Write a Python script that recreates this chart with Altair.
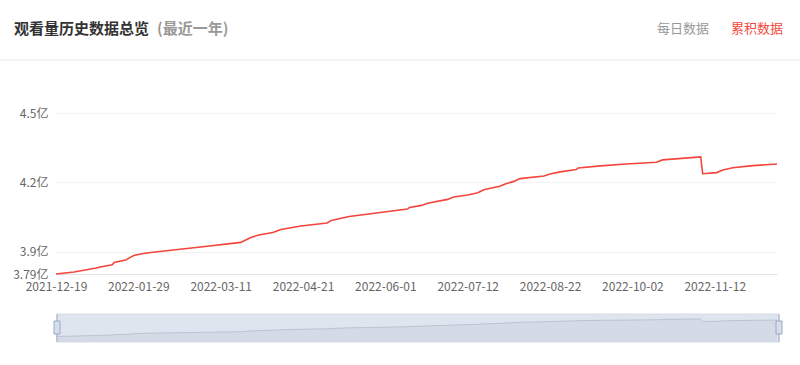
import altair as alt
import pandas as pd

# ---- data (cumulative views, unit: 亿) ----
dates = [
    "2021-12-19", "2021-12-28", "2022-01-08", "2022-01-10", "2022-01-16", "2022-01-17",
    "2022-01-23", "2022-01-25", "2022-01-27", "2022-02-02", "2022-02-12", "2022-03-01",
    "2022-03-21", "2022-03-26", "2022-03-30", "2022-04-06", "2022-04-10", "2022-04-20",
    "2022-05-03", "2022-05-05", "2022-05-14", "2022-06-12", "2022-06-13", "2022-06-19",
    "2022-06-22", "2022-07-02", "2022-07-05", "2022-07-12", "2022-07-17", "2022-07-20",
    "2022-07-28", "2022-07-31", "2022-08-04", "2022-08-07", "2022-08-19", "2022-08-22",
    "2022-08-27", "2022-09-04", "2022-09-05", "2022-09-16", "2022-09-29", "2022-10-14",
    "2022-10-17", "2022-11-05", "2022-11-06", "2022-11-13", "2022-11-16", "2022-11-21",
    "2022-12-01", "2022-12-13",
]
views_yi = [
    3.803, 3.812, 3.829, 3.833, 3.843, 3.853,
    3.865, 3.875, 3.884, 3.894, 3.904, 3.920,
    3.940, 3.961, 3.972, 3.983, 3.996, 4.011,
    4.024, 4.035, 4.052, 4.084, 4.091, 4.100,
    4.109, 4.126, 4.136, 4.145, 4.155, 4.168,
    4.183, 4.194, 4.204, 4.216, 4.227, 4.236,
    4.245, 4.255, 4.262, 4.271, 4.279, 4.287,
    4.297, 4.310, 4.237, 4.242, 4.253, 4.263,
    4.272, 4.279,
]
x_tick_labels = ["2021-12-19", "2022-01-29", "2022-03-11", "2022-04-21", "2022-06-01",
                 "2022-07-12", "2022-08-22", "2022-10-02", "2022-11-12"]
y_tick_values = [3.803, 3.9, 4.2, 4.5]
y_tick_labels = ["3.79亿", "3.9亿", "4.2亿", "4.5亿"]
slider_domain = [3.64, 4.456]

title_main = "观看量历史数据总览"
title_sub = "(最近一年)"
tab_daily = "每日数据"
tab_cum = "累积数据"

df = pd.DataFrame({"date": dates, "value": views_yi})


def dt(s):
    y, m, d = map(int, s.split("-"))
    return alt.DateTime(year=y, month=m, date=d, utc=True)


W, H = 721, 161
FONT = "Noto Sans CJK SC"
RED = "#f3453b"

y_expr = f"'{y_tick_labels[-1]}'"
for v, lab in reversed(list(zip(y_tick_values[:-1], y_tick_labels[:-1]))):
    y_expr = f"datum.value < {v + 0.01} ? '{lab}' : ({y_expr})"

x_scale = alt.Scale(type="utc", domain=[dt(dates[0]), dt(dates[-1])])

main_line = alt.Chart(df).mark_line(color=RED, strokeWidth=1.6).encode(
    x=alt.X("date:T", scale=x_scale, title=None,
            axis=alt.Axis(values=[dt(s) for s in x_tick_labels], format="%Y-%m-%d",
                          labelColor="#666666", labelFontSize=12, labelFont=FONT,
                          labelPadding=7, labelFlush=False, labelOverlap=False,
                          ticks=False, grid=False, domainColor="#e3e3e3")),
    y=alt.Y("value:Q", title=None,
            scale=alt.Scale(domain=[y_tick_values[0], y_tick_values[-1]], zero=False, nice=False),
            axis=alt.Axis(values=y_tick_values, labelExpr=y_expr, labelColor="#666666",
                          labelFontSize=12, labelFont=FONT, labelPadding=8,
                          ticks=False, domain=False, grid=True, gridColor="#f2f2f2")),
)

one = alt.Data(values=[{}])

def text_layer(txt, x, y, color, size, weight="normal"):
    return alt.Chart(one).mark_text(align="left", baseline="middle", font=FONT,
                                    fontSize=size, fontWeight=weight, color=color).encode(
        x=alt.value(x), y=alt.value(y), text=alt.value(txt))

header = [
    text_layer(title_main, -42, -84, "#333333", 15, "bold"),
    text_layer(title_sub, 101, -84, "#999999", 15, "bold"),
    text_layer(tab_daily, 601, -84, "#999999", 13),
    text_layer(tab_cum, 675, -84, "#f4483b", 13),
]

sep = alt.Chart(one).mark_rule(color="#e8e8e8", strokeWidth=1).encode(
    x=alt.value(-56), x2=alt.value(W + 23), y=alt.value(-53))

slider_bg = alt.Chart(one).mark_rect(fill="#dfe5ee", stroke="#d6dce6", strokeWidth=1).encode(
    x=alt.value(1), x2=alt.value(723), y=alt.value(201), y2=alt.value(229))

slider_area = alt.Chart(df).mark_area(
    color="#cfd7e2", line={"color": "#b9c4d4", "strokeWidth": 1}
).encode(
    x=alt.X("date:T", scale=x_scale),
    y=alt.Y("value:Q", axis=None,
            scale=alt.Scale(domain=slider_domain, range=[229, 201], zero=False, nice=False)),
    y2=alt.Y2Datum(slider_domain[0]),
)

handles = []
for hx in (1, 723):
    handles.append(alt.Chart(one).mark_rule(color="#a9b7cd", strokeWidth=1.2).encode(
        x=alt.value(hx), y=alt.value(201), y2=alt.value(229)))
    handles.append(alt.Chart(one).mark_rect(fill="#d6deea", stroke="#9aaac4", strokeWidth=1).encode(
        x=alt.value(hx - 3), x2=alt.value(hx + 3), y=alt.value(208), y2=alt.value(221)))

chart = alt.layer(
    main_line, sep, *header, slider_bg, slider_area, *handles
).resolve_scale(y="independent").properties(
    width=W, height=H,
    autosize=alt.AutoSizeParams(type="none"),
    padding={"left": 56, "top": 113, "right": 23, "bottom": 91},
    background="white",
).configure_view(stroke=None)

chart.save("out.html", embed_options={"renderer": "svg", "actions": False})
